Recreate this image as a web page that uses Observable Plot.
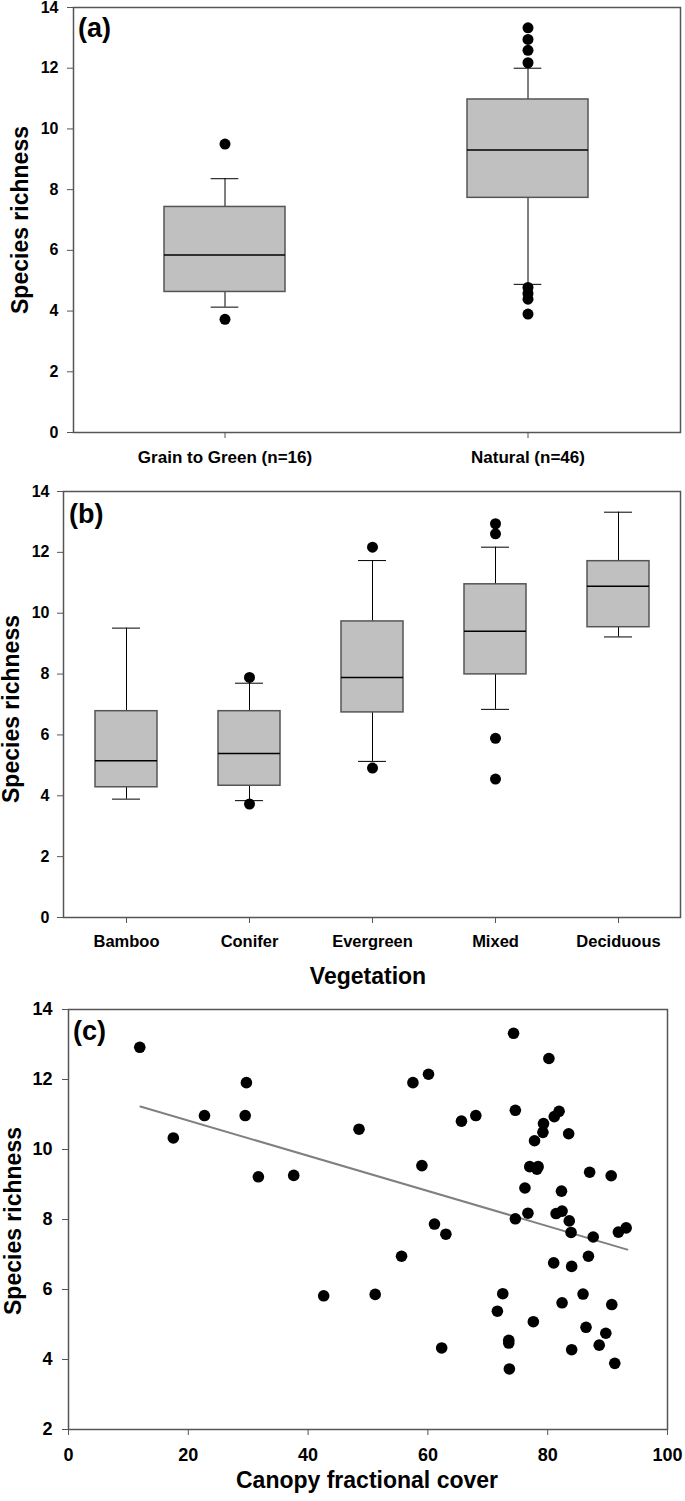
<!DOCTYPE html>
<html><head><meta charset="utf-8">
<script src="https://cdn.jsdelivr.net/npm/d3@7"></script>
<script src="https://cdn.jsdelivr.net/npm/@observablehq/plot@0.6"></script>
<style>
body{margin:0;background:#fff;}
#chart{width:685px;}
#chart svg{display:block;}
</style></head><body><div id="chart"></div>
<script>
// ---------- Panel (a) data ----------
const groupsA = ["Grain to Green (n=16)", "Natural (n=46)"];
const q1A = [4.63, 7.73];
const medA = [5.85, 9.31];
const q3A = [7.43, 10.97];
const loA = [4.13, 4.88];
const hiA = [8.36, 12.0];
const outGroupA = ["Grain to Green (n=16)", "Grain to Green (n=16)", "Natural (n=46)", "Natural (n=46)", "Natural (n=46)", "Natural (n=46)", "Natural (n=46)", "Natural (n=46)", "Natural (n=46)", "Natural (n=46)"];
const outValueA = [9.5, 3.73, 13.33, 12.95, 12.59, 12.18, 4.78, 4.58, 4.39, 3.90];

// ---------- Panel (b) data ----------
const vegCats = ["Bamboo", "Conifer", "Evergreen", "Mixed", "Deciduous"];
const q1B = [4.28, 4.33, 6.74, 7.99, 9.54];
const medB = [5.15, 5.39, 7.89, 9.41, 10.89];
const q3B = [6.78, 6.78, 9.73, 10.95, 11.71];
const loB = [3.89, 3.84, 5.13, 6.84, 9.22];
const hiB = [9.51, 7.70, 11.73, 12.17, 13.32];
const outGroupB = ["Conifer", "Conifer", "Evergreen", "Evergreen", "Mixed", "Mixed", "Mixed", "Mixed"];
const outValueB = [7.89, 3.73, 12.17, 4.91, 12.94, 12.61, 5.89, 4.55];

// ---------- Panel (c) data ----------
const canopy = [11.9, 17.5, 22.7, 29.5, 29.7, 31.7, 37.6, 42.6, 48.5, 51.2, 55.6, 57.5, 59.0, 60.1, 61.1, 62.3, 63.0, 65.6, 68.0, 71.6, 72.5, 73.5, 73.5, 73.6, 74.3, 74.6, 74.6, 76.2, 76.7, 77.0, 77.6, 77.8, 78.2, 78.4, 79.2, 79.3, 80.2, 81.0, 81.1, 81.4, 81.9, 82.3, 82.4, 82.4, 83.5, 83.6, 83.9, 84.0, 84.0, 85.9, 86.4, 86.8, 87.0, 87.6, 88.6, 89.7, 90.6, 90.7, 91.2, 91.8, 93.1];
const richness = [12.92, 10.33, 10.97, 10.97, 11.91, 9.22, 9.26, 5.82, 10.58, 5.86, 6.95, 11.91, 9.54, 12.15, 7.87, 4.33, 7.58, 10.81, 10.97, 5.38, 5.88, 4.55, 4.47, 3.73, 13.32, 11.12, 8.02, 8.90, 8.18, 9.51, 5.08, 10.25, 9.44, 9.51, 10.49, 10.74, 12.60, 6.76, 10.94, 8.17, 11.09, 8.81, 8.24, 5.62, 10.45, 7.96, 7.63, 6.66, 4.28, 5.87, 4.92, 6.95, 9.35, 7.50, 4.41, 4.75, 9.25, 5.57, 3.89, 7.64, 7.76];
const fitX = [12, 93.3];
const fitY = [11.23, 7.14];

// ---------- Tick labels ----------
const yTicksAB = [0, 2, 4, 6, 8, 10, 12, 14];
const yTicksC = [2, 4, 6, 8, 10, 12, 14];
const xTicksC = [0, 20, 40, 60, 80, 100];

// ---------- tables ----------
const boxA = groupsA.map((g, i) => ({g, q1: q1A[i], med: medA[i], q3: q3A[i], lo: loA[i], hi: hiA[i]}));
const outA = outGroupA.map((g, i) => ({g, v: outValueA[i]}));
const boxB = vegCats.map((g, i) => ({g, q1: q1B[i], med: medB[i], q3: q3B[i], lo: loB[i], hi: hiB[i]}));
const outB = outGroupB.map((g, i) => ({g, v: outValueB[i]}));
const pts = canopy.map((x, i) => ({x, y: richness[i]}));
const fit = fitX.map((x, i) => ({x, y: fitY[i]}));

const FONT = "'Liberation Sans', Arial, Helvetica, sans-serif";
const baseStyle = {fontFamily: FONT, fontWeight: "bold", fontSize: "16px", color: "#000", background: "#fff", overflow: "visible"};
const FRAME = "#555";

function boxMarks(box, out, capInset) {
  return [
    Plot.ruleX(box, {x: "g", y1: "lo", y2: "hi", stroke: "#000", strokeWidth: 1}),
    Plot.tickY(box, {x: "g", y: "lo", insetLeft: capInset, insetRight: capInset, stroke: "#000", strokeWidth: 1}),
    Plot.tickY(box, {x: "g", y: "hi", insetLeft: capInset, insetRight: capInset, stroke: "#000", strokeWidth: 1}),
    Plot.barY(box, {x: "g", y1: "q1", y2: "q3", fill: "#c0c0c0", stroke: FRAME, strokeWidth: 1.5}),
    Plot.tickY(box, {x: "g", y: "med", stroke: "#000", strokeWidth: 1.5}),
    Plot.dot(out, {x: "g", y: "v", r: 5.5, fill: "#000", stroke: "none"})
  ];
}

function addText(svg, txt, x, y, size, rotate, anchor) {
  const t = d3.select(svg).append("text")
    .attr("transform", `translate(${x},${y})` + (rotate ? " rotate(-90)" : ""))
    .attr("text-anchor", anchor || "middle")
    .attr("dominant-baseline", rotate ? "central" : "auto")
    .attr("font-family", FONT)
    .attr("font-weight", "bold")
    .attr("font-size", size)
    .attr("fill", "#000")
    .text(txt);
  return t;
}

// ---------- Panel A ----------
const svgA = Plot.plot({
  width: 685, height: 480,
  marginTop: 7, marginBottom: 48, marginLeft: 73, marginRight: 5,
  style: baseStyle,
  x: {type: "band", domain: groupsA, paddingInner: 0.6, paddingOuter: 0.3},
  y: {domain: [0, 14]},
  marks: [
    ...boxMarks(boxA, outA, 46.7),
    Plot.frame({stroke: FRAME, strokeWidth: 1.5}),
    Plot.axisY({ticks: yTicksAB, tickSize: 6, tickPadding: 9, label: null, stroke: FRAME, fontSize: 16}),
    Plot.axisX({tickSize: 6, tickPadding: 12, label: null, stroke: FRAME, fontSize: 17})
  ]
});
addText(svgA, "Species richness", 20, 220, 23, true);
addText(svgA, "(a)", 78, 37, 27, false, "start");

// ---------- Panel B ----------
const svgB = Plot.plot({
  width: 685, height: 515,
  marginTop: 11, marginBottom: 78, marginLeft: 63, marginRight: 5,
  style: baseStyle,
  x: {type: "band", domain: vegCats, paddingInner: 0.5, paddingOuter: 0.25},
  y: {domain: [0, 14]},
  marks: [
    ...boxMarks(boxB, outB, 17),
    Plot.frame({stroke: FRAME, strokeWidth: 1.5}),
    Plot.axisY({ticks: yTicksAB, tickSize: 6, tickPadding: 8, label: null, stroke: FRAME, fontSize: 16}),
    Plot.axisX({tickSize: 6, tickPadding: 12, label: null, stroke: FRAME, fontSize: 16.5})
  ]
});
addText(svgB, "Species richness", 11, 229, 23, true);
addText(svgB, "(b)", 69, 43, 27, false, "start");
addText(svgB, "Vegetation", 368, 504, 23, false);

// ---------- Panel C ----------
const svgC = Plot.plot({
  width: 685, height: 506,
  marginTop: 14, marginBottom: 72, marginLeft: 68, marginRight: 18,
  style: baseStyle,
  x: {domain: [0, 100]},
  y: {domain: [2, 14]},
  marks: [
    Plot.line(fit, {x: "x", y: "y", stroke: "#808080", strokeWidth: 2}),
    Plot.dot(pts, {x: "x", y: "y", r: 5.8, fill: "#000", stroke: "none"}),
    Plot.frame({stroke: FRAME, strokeWidth: 1.5}),
    Plot.axisY({ticks: yTicksC, tickSize: 6, tickPadding: 10, label: null, stroke: FRAME, fontSize: 18}),
    Plot.axisX({ticks: xTicksC, tickSize: 6, tickPadding: 13, label: null, stroke: FRAME, fontSize: 18})
  ]
});
addText(svgC, "Species richness", 13, 226, 23, true);
addText(svgC, "(c)", 73, 45, 27, false, "start");
addText(svgC, "Canopy fractional cover", 367, 493, 23, false);

const chart = document.getElementById("chart");
chart.appendChild(svgA);
chart.appendChild(svgB);
chart.appendChild(svgC);
</script>
</body></html>
